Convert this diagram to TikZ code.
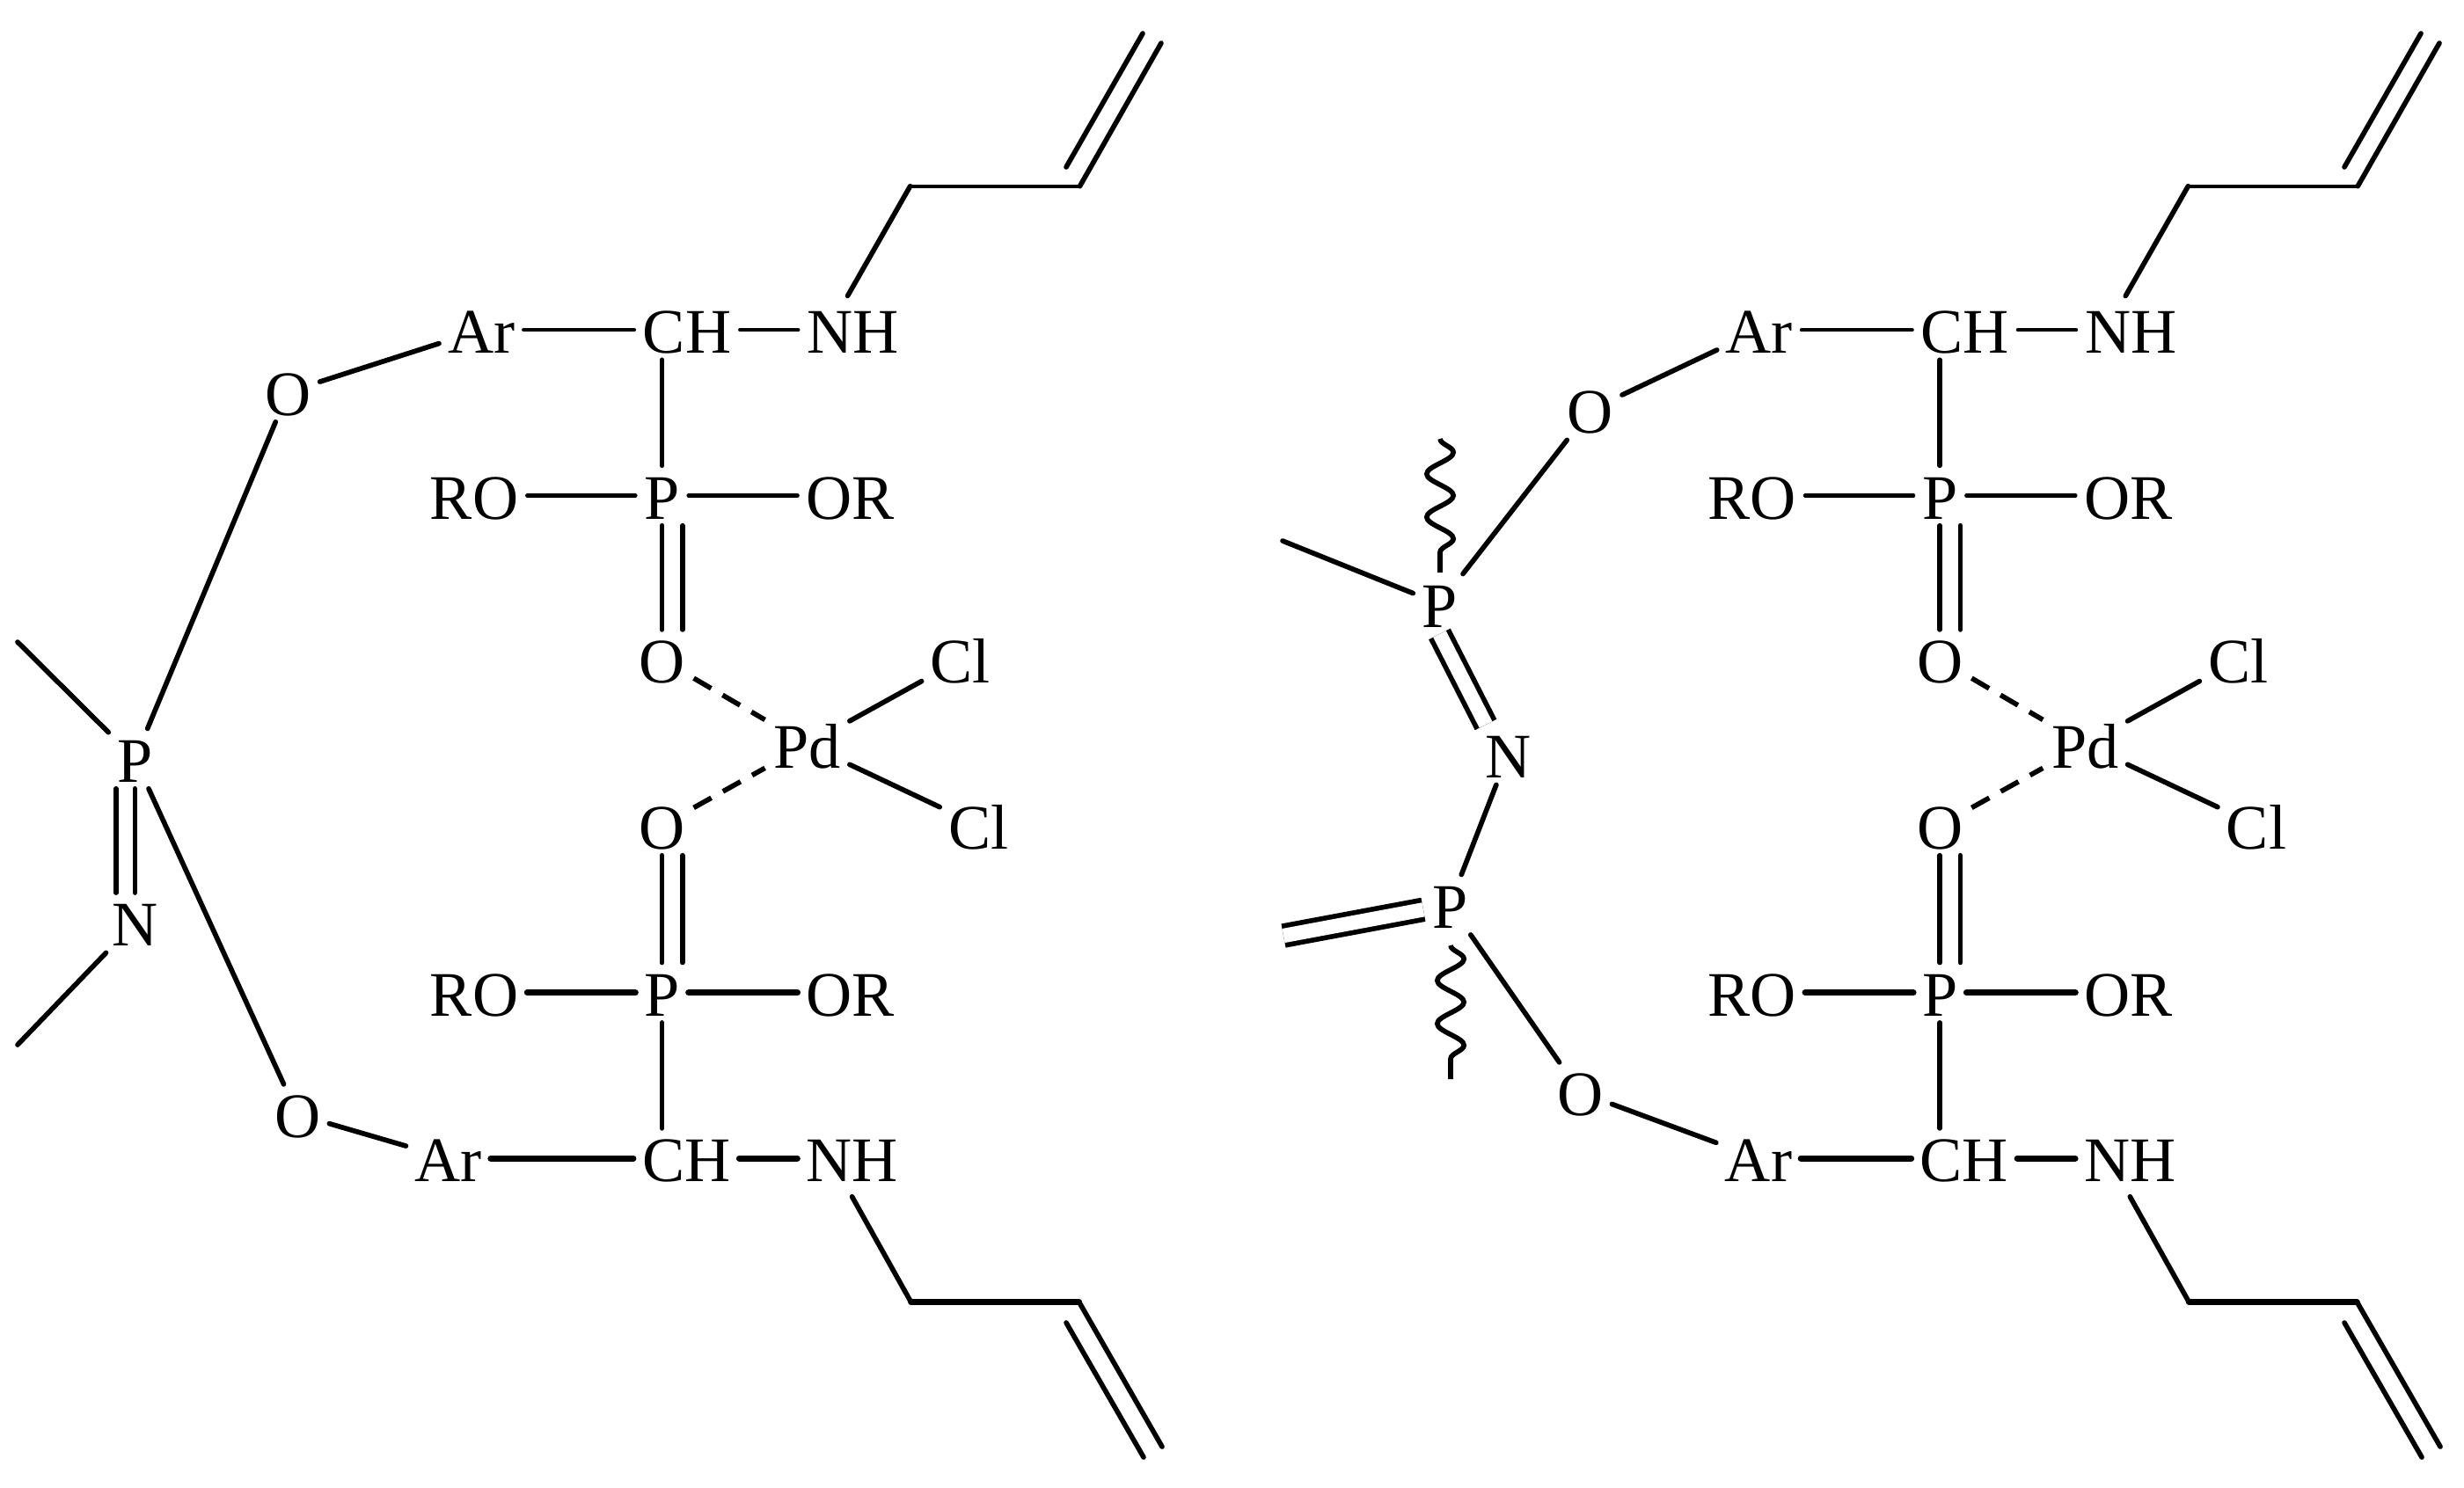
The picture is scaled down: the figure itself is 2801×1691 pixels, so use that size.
\documentclass[tikz,border=0pt]{standalone}
\usepackage{fontspec}
\setmainfont{Liberation Serif}
\usetikzlibrary{positioning,decorations.pathmorphing}

\tikzset{
  atom/.style={inner xsep=3pt, inner ysep=2.2pt, text height=17pt, text depth=0pt, font=\fontsize{23}{25}\selectfont},
  bond/.style={line width=1.8pt, line cap=round},
  topbond/.style={line width=1.4pt, line cap=round},
  lowbond/.style={line width=2.2pt, line cap=round},
  dbl/.style={line width=1.8pt, double, double distance=5.2pt},
  weak/.style={line width=1.8pt, dash pattern=on 7.3pt off 4.8pt},
  wavy/.style={line width=1.8pt, decorate, decoration={snake, segment length=0.55cm, amplitude=0.17cm}}
}

\begin{document}
\begin{tikzpicture}[x=0.0112cm, y=-0.0112cm, on grid]
\useasboundingbox (0,0) rectangle (2801,1691);

% left molecule
\node[atom] (p1) at (752.5,563.5) {P};
\node[atom, left=2.39cm of p1] (ro1) {RO};
\node[atom, right=2.40cm of p1] (or1) {OR};
\node[atom, above right=2.11cm and 0.32cm of p1] (ch1) {CH};
\node[atom, right=2.11cm of ch1] (nh1) {NH};
\node[atom, left=2.62cm of ch1] (ar1) {Ar};
\node[atom, below left=0.79cm and 2.46cm of ar1] (oa1) {O};
\node[atom, below=2.09cm of p1] (o1) {O};
\node[atom, below right=1.08cm and 1.85cm of o1] (pd1) {Pd};
\node[atom, above right=1.08cm and 1.95cm of pd1] (cla1) {Cl};
\node[atom, below right=1.03cm and 2.18cm of pd1] (clb1) {Cl};
\node[atom, below left=1.03cm and 1.85cm of pd1] (o2) {O};
\node[atom, below=2.13cm of o2] (p2) {P};
\node[atom, left=2.39cm of p2] (ro2) {RO};
\node[atom, right=2.40cm of p2] (or2) {OR};
\node[atom, below right=2.11cm and 0.31cm of p2] (ch2) {CH};
\node[atom, right=2.11cm of ch2] (nh2) {NH};
\node[atom, left=3.03cm of ch2] (ar2) {Ar};
\node[atom, above left=0.56cm and 1.92cm of ar2] (ob1) {O};
\node[atom, below left=4.67cm and 1.95cm of oa1] (pa1) {P};
\node[atom, below=2.09cm of pa1] (n1) {N};

\coordinate[above right=1.83cm and 0.73cm of nh1] (c1);
\coordinate[right=2.16cm of c1] (c2);
\coordinate (c3) at (1320,49);
\coordinate (c4) at (1212,190);
\coordinate (c5) at (1299,38);
\coordinate[below right=1.83cm and 0.75cm of nh2] (c6);
\coordinate[right=2.14cm of c6] (c7);
\coordinate (c8) at (1321,1645);
\coordinate (c9) at (1212,1504);
\coordinate (c10) at (1300,1657);
\coordinate (me1) at (20,730);
\coordinate (me2) at (20,1188);

\draw[bond] (oa1) -- (ar1);
\draw[topbond] (ar1) -- (ch1);
\draw[topbond] (ch1) -- (nh1);
\draw[bond] (p1 |- ch1.south) -- (p1);
\draw[topbond] (ro1) -- (p1);
\draw[topbond] (p1) -- (or1);
\draw[bond] (p1) -- (o1);
\draw[bond] ([xshift=7.4pt]p1.south) -- ([xshift=7.4pt]o1.north);
\draw[weak] (o1) -- (pd1);
\draw[weak] (o2) -- (pd1);
\draw[bond] (pd1) -- (cla1);
\draw[bond] (pd1) -- (clb1);
\draw[bond] (o2) -- (p2);
\draw[bond] ([xshift=7.4pt]o2.south) -- ([xshift=7.4pt]p2.north);
\draw[lowbond] (ro2) -- (p2);
\draw[lowbond] (p2) -- (or2);
\draw[bond] (p2) -- (p2 |- ch2.north);
\draw[lowbond] (ch2) -- (nh2);
\draw[lowbond] (ar2) -- (ch2);
\draw[bond] (ob1) -- (ar2);
\draw[bond] (pa1) -- (oa1);
\draw[bond] (pa1) -- (ob1);
\draw[bond] (pa1) -- (n1);
\draw[bond] ([xshift=-6.9pt]pa1.south) -- ([xshift=-6.9pt]n1.north);
\draw[bond] (me1) -- (pa1);
\draw[bond] (me2) -- (n1);
\draw[bond] ([shift={(-1.9pt,1.4pt)}]nh1.north) -- (c1);
\draw[topbond] (c1) -- (c2);
\draw[bond] (c2) -- (c3);
\draw[bond] (c4) -- (c5);
\draw[bond] ([yshift=-3pt]nh2.south) -- (c6);
\draw[lowbond] (c6) -- (c7);
\draw[bond] (c7) -- (c8);
\draw[bond] (c9) -- (c10);

% right molecule
\node[atom] (p3) at (2205.2,563.5) {P};
\node[atom, left=2.39cm of p3] (ro3) {RO};
\node[atom, right=2.40cm of p3] (or3) {OR};
\node[atom, above right=2.11cm and 0.32cm of p3] (ch3) {CH};
\node[atom, right=2.11cm of ch3] (nh3) {NH};
\node[atom, left=2.62cm of ch3] (ar3) {Ar};
\node[atom, below left=1.02cm and 2.15cm of ar3] (oa2) {O};
\node[atom, below=2.09cm of p3] (o3) {O};
\node[atom, below right=1.08cm and 1.85cm of o3] (pd2) {Pd};
\node[atom, above right=1.08cm and 1.95cm of pd2] (cla2) {Cl};
\node[atom, below right=1.03cm and 2.18cm of pd2] (clb2) {Cl};
\node[atom, below left=1.03cm and 1.85cm of pd2] (o4) {O};
\node[atom, below=2.13cm of o4] (p4) {P};
\node[atom, left=2.39cm of p4] (ro4) {RO};
\node[atom, right=2.40cm of p4] (or4) {OR};
\node[atom, below right=2.11cm and 0.31cm of p4] (ch4) {CH};
\node[atom, right=2.11cm of ch4] (nh4) {NH};
\node[atom, left=2.62cm of ch4] (ar4) {Ar};
\node[atom, above left=0.84cm and 2.27cm of ar4] (ob2) {O};
\node[atom, below left=2.47cm and 1.92cm of oa2] (pa2) {P};
\node[atom, below right=1.92cm and 0.87cm of pa2] (n2) {N};
\node[atom, below left=1.91cm and 0.74cm of n2] (pb2) {P};

\coordinate[above right=1.83cm and 0.73cm of nh3] (d1);
\coordinate[right=2.16cm of d1] (d2);
\coordinate (d3) at (2773,49);
\coordinate (d4) at (2665,190);
\coordinate (d5) at (2752,38);
\coordinate[below right=1.83cm and 0.75cm of nh4] (d6);
\coordinate[right=2.14cm of d6] (d7);
\coordinate (d8) at (2774,1645);
\coordinate (d9) at (2665,1504);
\coordinate (d10) at (2753,1657);
\coordinate (me3) at (1458,615);
\coordinate (me4) at (1459,1064);
\coordinate (wv1) at (1637,499);
\coordinate (wv2) at (1637,651);
\coordinate (wv3) at (1649,1075);
\coordinate (wv4) at (1649,1227);

\draw[bond] (oa2) -- (ar3);
\draw[topbond] (ar3) -- (ch3);
\draw[topbond] (ch3) -- (nh3);
\draw[bond] (p3 |- ch3.south) -- (p3);
\draw[topbond] (ro3) -- (p3);
\draw[topbond] (p3) -- (or3);
\draw[bond] (p3) -- (o3);
\draw[bond] ([xshift=7.4pt]p3.south) -- ([xshift=7.4pt]o3.north);
\draw[weak] (o3) -- (pd2);
\draw[weak] (o4) -- (pd2);
\draw[bond] (pd2) -- (cla2);
\draw[bond] (pd2) -- (clb2);
\draw[bond] (o4) -- (p4);
\draw[bond] ([xshift=7.4pt]o4.south) -- ([xshift=7.4pt]p4.north);
\draw[lowbond] (ro4) -- (p4);
\draw[lowbond] (p4) -- (or4);
\draw[bond] (p4) -- (p4 |- ch4.north);
\draw[lowbond] (ch4) -- (nh4);
\draw[lowbond] (ar4) -- (ch4);
\draw[bond] (ob2) -- (ar4);
\draw[bond] (pa2) -- (oa2);
\draw[bond] (pb2) -- (ob2);
\draw[dbl] (pa2.south) -- ([xshift=-8pt]n2.north);
\draw[bond] (n2) -- (pb2);
\draw[bond] (me3) -- (pa2);
\draw[dbl] (me4) -- (pb2);
\draw[wavy] (wv1) -- (wv2);
\draw[wavy] (wv3) -- (wv4);
\draw[bond] ([shift={(-1.9pt,1.4pt)}]nh3.north) -- (d1);
\draw[topbond] (d1) -- (d2);
\draw[bond] (d2) -- (d3);
\draw[bond] (d4) -- (d5);
\draw[bond] ([yshift=-3pt]nh4.south) -- (d6);
\draw[lowbond] (d6) -- (d7);
\draw[bond] (d7) -- (d8);
\draw[bond] (d9) -- (d10);

\end{tikzpicture}
\end{document}
